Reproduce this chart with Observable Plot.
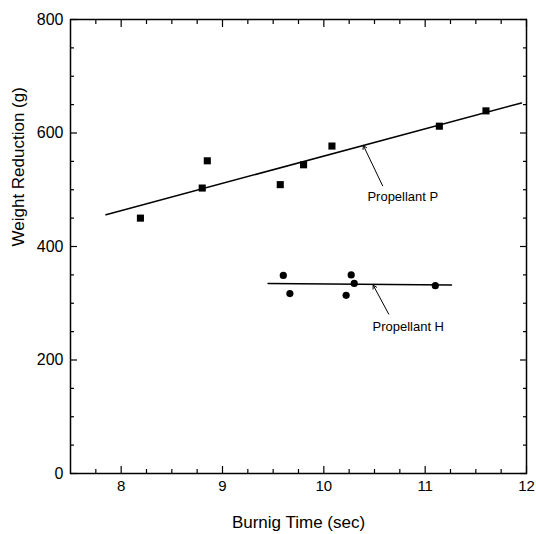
<!DOCTYPE html>
<html><head><meta charset="utf-8">
<script src="https://cdn.jsdelivr.net/npm/d3@7"></script>
<script src="https://cdn.jsdelivr.net/npm/@observablehq/plot@0.6"></script>
<style>
body{margin:0;background:#fff;}
#chart svg{font-family:"Liberation Sans",Arial,sans-serif;}
</style>
</head><body><div id="chart"></div>
<script>
// Propellant P (squares)
const propPTime   = [8.19, 8.80, 8.85, 9.57, 9.80, 10.08, 11.14, 11.60];
const propPWeight = [450, 503, 551, 509, 544, 577, 612, 639];
// Propellant H (circles)
const propHTime   = [9.60, 9.665, 10.27, 10.30, 10.22, 11.10];
const propHWeight = [349, 317, 350, 335, 314, 331];
// fitted lines (end points)
const fitPTime   = [7.85, 11.95];
const fitPWeight = [456, 653];
const fitHTime   = [9.45, 11.26];
const fitHWeight = [335, 332];
// annotations
const annLabels = ["Propellant P", "Propellant H"];
const annTextX  = [10.43, 10.48];
const annTextY  = [487, 259];
const annTailX  = [10.58, 10.64];
const annTailY  = [507, 281];
const annTipX   = [10.39, 10.487];
const annTipY   = [578, 332];
// ticks
const xMajorTicks = [8, 9, 10, 11, 12];
const xMinorTicks = [7.75, 8.25, 8.5, 8.75, 9.25, 9.5, 9.75, 10.25, 10.5, 10.75, 11.25, 11.5, 11.75];
const yMajorTicks = [0, 200, 400, 600, 800];
const yMinorTicks = [50, 100, 150, 250, 300, 350, 450, 500, 550, 650, 700, 750];

const pData = propPTime.map((t, i) => ({t, w: propPWeight[i]}));
const hData = propHTime.map((t, i) => ({t, w: propHWeight[i]}));
const fitP = fitPTime.map((t, i) => ({t, w: fitPWeight[i]}));
const fitH = fitHTime.map((t, i) => ({t, w: fitHWeight[i]}));
const ann = annLabels.map((label, i) => ({label, x: annTextX[i], y: annTextY[i], x1: annTailX[i], y1: annTailY[i], x2: annTipX[i], y2: annTipY[i]}));

const tickFont = 15;
const inward = (k, anchor, ticks, size) => {
  const o = {ticks, anchor, tickSize: size, fill: "none", label: null, stroke: "#000", strokeWidth: 1.2};
  if (anchor === "bottom") o.dy = -size;
  if (anchor === "top") o.dy = size;
  if (anchor === "left") o.dx = size;
  if (anchor === "right") o.dx = -size;
  return k === "x" ? Plot.axisX(o) : Plot.axisY(o);
};

const chart = Plot.plot({
  width: 536,
  height: 534,
  marginLeft: 70,
  marginRight: 10,
  marginTop: 19,
  marginBottom: 61,
  style: {fontSize: tickFont + "px", color: "#000", background: "#fff"},
  x: {domain: [7.5, 12]},
  y: {domain: [0, 800]},
  marks: [
    inward("x", "bottom", xMinorTicks, 4),
    inward("x", "top", xMinorTicks, 4),
    inward("y", "left", yMinorTicks, 4),
    inward("y", "right", yMinorTicks, 4),
    inward("x", "bottom", xMajorTicks, 7),
    inward("x", "top", xMajorTicks, 7),
    inward("y", "left", yMajorTicks, 7),
    inward("y", "right", yMajorTicks, 7),
    // tick labels
    Plot.axisX({ticks: xMajorTicks, anchor: "bottom", tickSize: 0, tickPadding: 7, tickFormat: "d", label: null, fontSize: tickFont}),
    Plot.axisY({ticks: yMajorTicks, anchor: "left", tickSize: 0, tickPadding: 7, tickFormat: "d", label: null, fontSize: 16}),
    Plot.frame({stroke: "#000", strokeWidth: 1.5}),
    // fitted lines
    Plot.line(fitP, {x: "t", y: "w", stroke: "#000", strokeWidth: 1.5}),
    Plot.line(fitH, {x: "t", y: "w", stroke: "#000", strokeWidth: 1.5}),
    // data
    Plot.dot(pData, {x: "t", y: "w", symbol: "square", r: 4, fill: "#000", stroke: "none"}),
    Plot.dot(hData, {x: "t", y: "w", symbol: "circle", r: 3.6, fill: "#000", stroke: "none"}),
    // annotations
    Plot.arrow(ann, {x1: "x1", y1: "y1", x2: "x2", y2: "y2", stroke: "#000", strokeWidth: 1, headLength: 6}),
    Plot.text(ann, {x: "x", y: "y", text: "label", textAnchor: "start", fontSize: 13, fill: "#000"}),
    // axis titles
    Plot.text(["Burnig Time (sec)"], {frameAnchor: "bottom", dy: 54, fontSize: 17, fill: "#000"}),
    Plot.text(["Weight Reduction (g)"], {frameAnchor: "left", dx: -52, rotate: -90, fontSize: 17, fill: "#000"})
  ]
});
document.getElementById("chart").appendChild(chart);
</script>
</body></html>
